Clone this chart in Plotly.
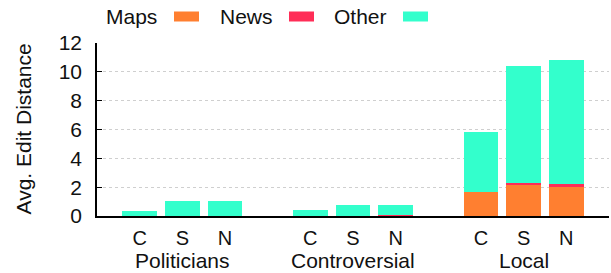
import plotly.graph_objects as go

# ---- data ----
groups = ["Politicians", "Controversial", "Local"]
methods = ["C", "S", "N"]
maps_vals = [0.0, 0.0, 0.0, 0.0, 0.0, 0.01, 1.68, 2.17, 2.03]
news_vals = [0.0, 0.0, 0.0, 0.0, 0.03, 0.08, 0.0, 0.14, 0.21]
other_vals = [0.32, 1.06, 1.06, 0.44, 0.75, 0.69, 4.16, 8.07, 8.56]
y_ticks = [0, 2, 4, 6, 8, 10, 12]

series = [("Maps", maps_vals, "#ff7f30"),
          ("News", news_vals, "#ff2d57"),
          ("Other", other_vals, "#33ffcc")]

FONT = "Liberation Sans, Arial, sans-serif"
FS = 21

# x positions: one empty slot between groups
xs = []
labels = []
for gi, g in enumerate(groups):
    for mi, m in enumerate(methods):
        xs.append(gi * (len(methods) + 1) + mi)
        labels.append(m)

fig = go.Figure()
for name, vals, col in series:
    fig.add_trace(go.Bar(x=xs, y=vals, name=name, marker=dict(color=col, line=dict(width=0)),
                         width=0.814, showlegend=False))

W, H = 611, 273
L, R, T, B = 97, 2, 43, 57
pw, ph = W - L - R, H - T - B

def px2paper_x(px):
    return (px - L) / pw

def px2paper_y(py):
    return (H - B - py) / ph

annotations = []
# group labels
for gi, g in enumerate(groups):
    cx = gi * (len(methods) + 1) + (len(methods) - 1) / 2
    annotations.append(dict(x=cx, xref="x", y=0, yref="paper", yanchor="middle",
                            yshift=-44.5, text=g, showarrow=False,
                            font=dict(family=FONT, size=FS, color="#111")))
# y axis title
annotations.append(dict(x=px2paper_x(22.5), xref="paper", y=px2paper_y(129), yref="paper",
                        text="Avg. Edit Distance", textangle=-90, showarrow=False,
                        xanchor="center", yanchor="middle",
                        font=dict(family=FONT, size=FS, color="#111")))

# legend (text then swatch, as in reference)
shapes = []
leg_text_right = [159, 275, 389]
leg_sw_left = [174, 289, 403]
for (name, vals, col), tr, sl in zip(series, leg_text_right, leg_sw_left):
    annotations.append(dict(x=px2paper_x(tr), xref="paper", y=px2paper_y(16.5), yref="paper",
                            xanchor="right", yanchor="middle", text=name, showarrow=False,
                            font=dict(family=FONT, size=FS, color="#111")))
    shapes.append(dict(type="rect", xref="paper", yref="paper",
                       x0=px2paper_x(sl), x1=px2paper_x(sl + 25),
                       y0=px2paper_y(21.5), y1=px2paper_y(11.5),
                       fillcolor=col, line=dict(width=0)))

fig.update_layout(
    width=W, height=H,
    margin=dict(l=L, r=R, t=T, b=B),
    barmode="stack",
    plot_bgcolor="white", paper_bgcolor="white",
    bargap=0,
    annotations=annotations,
    shapes=shapes,
    showlegend=False,
    font=dict(family=FONT, size=FS, color="#111"),
)
fig.update_xaxes(range=[-1, 11], tickmode="array", tickvals=xs, ticktext=labels,
                 showgrid=False, zeroline=False, showline=True, linecolor="#000", linewidth=1.5,
                 ticks="", tickfont=dict(family=FONT, size=FS - 1, color="#111"),
                 ticklabelstandoff=3)
fig.update_yaxes(range=[0, 12], tickmode="array", tickvals=y_ticks,
                 showgrid=True, gridcolor="#cfcfcf", griddash="dot", gridwidth=1,
                 zeroline=False, showline=True, linecolor="#000", linewidth=1.5,
                 ticks="inside", ticklen=5, tickcolor="#000", tickwidth=1,
                 tickfont=dict(family=FONT, size=FS, color="#111"),
                 ticklabelstandoff=9)

fig.write_html("out.html", config={"displayModeBar": False},
               post_script="document.body.style.margin='0';document.body.style.padding='0';")
